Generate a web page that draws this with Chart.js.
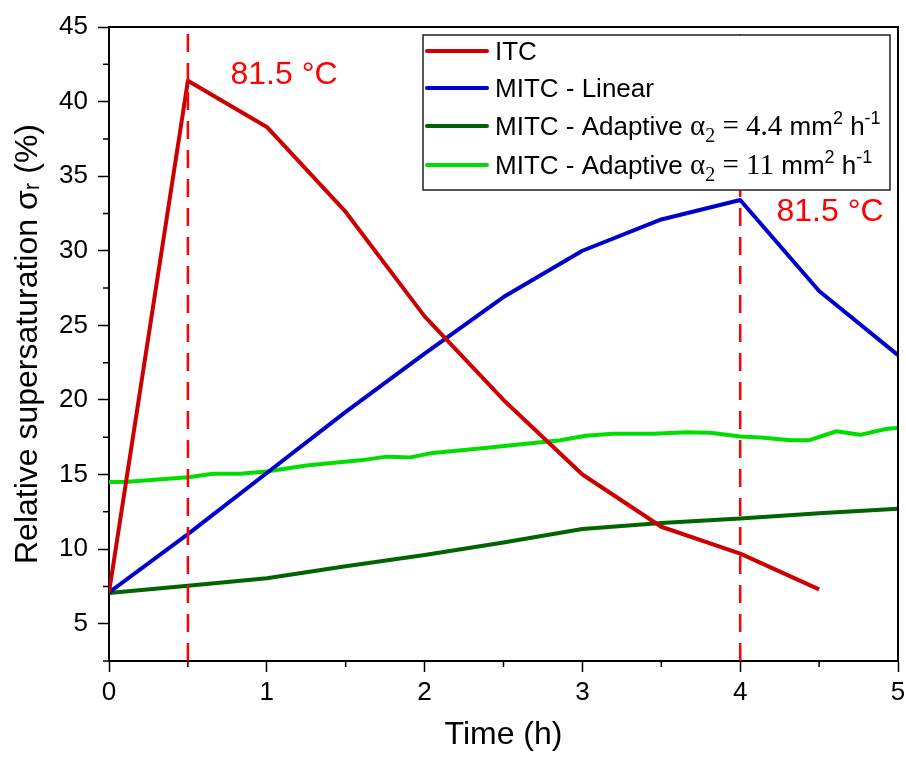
<!DOCTYPE html>
<html>
<head>
<meta charset="utf-8">
<script src="https://cdn.jsdelivr.net/npm/chart.js@4.4.0/dist/chart.umd.min.js"></script>
<style>
  html, body { margin: 0; padding: 0; background: #fff; }
  canvas { display: block; }
</style>
</head>
<body>
<canvas id="graficoSupersat" width="906" height="758"></canvas>
<script>
// dados
const tempos = [0, 0.5, 1, 1.5, 2, 2.5, 3, 3.5, 4, 4.5, 5];
const itcValores = [7.1, 41.4, 38.3, 32.6, 25.6, 20.0, 15.0, 11.5, 9.7, 7.3];
const linearValores = [7.1, 11.0, 15.1, 19.2, 23.1, 26.9, 30.0, 32.1, 33.4, 27.3, 23.0];
const adaptive44Valores = [7.05, 7.55, 8.05, 8.85, 9.6, 10.45, 11.35, 11.75, 12.05, 12.4, 12.7];
const adaptive11Tempos = [0, 0.12, 0.5, 0.66, 0.83, 1.0, 1.25, 1.59, 1.76, 1.91, 2.05, 2.35, 2.86, 3.02, 3.19, 3.45, 3.66, 3.81, 4.0, 4.13, 4.32, 4.44, 4.61, 4.76, 4.93, 5.0];
const adaptive11Valores = [14.5, 14.52, 14.82, 15.05, 15.05, 15.2, 15.6, 15.95, 16.2, 16.15, 16.45, 16.75, 17.3, 17.6, 17.73, 17.73, 17.84, 17.8, 17.55, 17.48, 17.3, 17.3, 17.9, 17.66, 18.07, 18.12];
const temposLimite = [0.5, 4];
const xTicks = [0, 1, 2, 3, 4, 5];
const yTicks = [5, 10, 15, 20, 25, 30, 35, 40, 45];
const anotacoes = [
  { texto: '81.5 °C', x: 0.77, y: 41.8 },
  { texto: '81.5 °C', x: 4.23, y: 32.6 }
];

const SANS = '"Liberation Sans", Arial, sans-serif';
const SERIF = '"Liberation Serif", "Times New Roman", serif';

// legenda com texto rico (sub/sobrescrito)
const legendaItens = [
  { cor: '#cc0000', partes: [['ITC', 'n']] },
  { cor: '#0000cc', partes: [['MITC - Linear', 'n']] },
  { cor: '#006400', partes: [['MITC - Adaptive ', 'n'], ['α', 's'], ['2', 'ssub'], [' = 4.4 ', 's'], ['mm', 'n'], ['2', 'sup'], [' h', 'n'], ['-1', 'sup']] },
  { cor: '#00dd00', partes: [['MITC - Adaptive ', 'n'], ['α', 's'], ['2', 'ssub'], [' = 11 ', 's'], ['mm', 'n'], ['2', 'sup'], [' h', 'n'], ['-1', 'sup']] }
];

const pontos = (xs, ys) => ys.map((v, i) => ({ x: xs[i], y: v }));

const pluginExtras = {
  id: 'extras',
  afterDraw(chart) {
    const { ctx, chartArea: a, scales } = chart;
    ctx.save();
    // moldura (topo e direita)
    ctx.strokeStyle = '#000';
    ctx.lineWidth = 2;
    ctx.beginPath();
    ctx.moveTo(a.left, a.top);
    ctx.lineTo(a.right, a.top);
    ctx.lineTo(a.right, a.bottom);
    ctx.stroke();

    // ticks menores
    ctx.lineWidth = 1.5;
    ctx.beginPath();
    for (let v = 0.5; v < 5; v += 1) {
      const px = scales.x.getPixelForValue(v);
      ctx.moveTo(px, a.bottom);
      ctx.lineTo(px, a.bottom + 6);
    }
    for (let v = 2.5; v < 45; v += 5) {
      const py = scales.y.getPixelForValue(v);
      ctx.moveTo(a.left, py);
      ctx.lineTo(a.left - 6, py);
    }
    ctx.stroke();

    // anotações
    ctx.fillStyle = '#ff0000';
    ctx.font = '32px ' + SANS;
    ctx.textBaseline = 'middle';
    ctx.textAlign = 'left';
    anotacoes.forEach(an => {
      ctx.fillText(an.texto, scales.x.getPixelForValue(an.x), scales.y.getPixelForValue(an.y));
    });

    // legenda
    const bx = a.right - 475, by = a.top + 8, bw = 467, bh = 155;
    ctx.fillStyle = '#fff';
    ctx.fillRect(bx, by, bw, bh);
    ctx.strokeStyle = '#222';
    ctx.lineWidth = 1.5;
    ctx.strokeRect(bx, by, bw, bh);
    const linhasY = [by + 16, by + 53, by + 91, by + 130];
    legendaItens.forEach((item, i) => {
      const y = linhasY[i];
      ctx.strokeStyle = item.cor;
      ctx.lineWidth = 4;
      ctx.lineCap = 'round';
      ctx.beginPath();
      ctx.moveTo(bx + 4, y);
      ctx.lineTo(bx + 64, y);
      ctx.stroke();
      let x = bx + 72;
      ctx.fillStyle = '#000';
      ctx.textBaseline = 'alphabetic';
      const base = y + 9;
      item.partes.forEach(([txt, estilo]) => {
        let dy = 0;
        if (estilo === 'n') ctx.font = '26px ' + SANS;
        else if (estilo === 's') ctx.font = '29px ' + SERIF;
        else if (estilo === 'ssub') { ctx.font = '20px ' + SERIF; dy = 7; }
        else if (estilo === 'sup') { ctx.font = '18px ' + SANS; dy = -11; }
        ctx.fillText(txt, x, base + dy);
        x += ctx.measureText(txt).width;
      });
    });
    ctx.restore();
  }
};

const ctxGrafico = document.getElementById('graficoSupersat').getContext('2d');

const linhaLimite = (t) => ({
  label: 'limite',
  data: [{ x: t, y: 2.5 }, { x: t, y: 45 }],
  borderColor: '#ff0000',
  borderWidth: 2.5,
  borderDash: [18, 11],
  pointRadius: 0
});

new Chart(ctxGrafico, {
  type: 'line',
  data: {
    datasets: [
      ...temposLimite.map(linhaLimite),
      { label: 'ITC', data: pontos(tempos, itcValores), borderColor: '#cc0000', borderWidth: 4 },
      { label: 'MITC - Linear', data: pontos(tempos, linearValores), borderColor: '#0000cc', borderWidth: 4 },
      { label: 'MITC - Adaptive 4.4', data: pontos(tempos, adaptive44Valores), borderColor: '#006400', borderWidth: 4 },
      { label: 'MITC - Adaptive 11', data: pontos(adaptive11Tempos, adaptive11Valores), borderColor: '#00dd00', borderWidth: 4 }
    ]
  },
  options: {
    responsive: false,
    animation: false,
    devicePixelRatio: 1,
    elements: { point: { radius: 0 }, line: { tension: 0, borderJoinStyle: 'round' } },
    layout: { padding: { top: 27, right: 8, left: 9, bottom: 0 } },
    plugins: { legend: { display: false }, tooltip: { enabled: false } },
    scales: {
      x: {
        type: 'linear',
        min: 0,
        max: 5,
        afterBuildTicks: s => { s.ticks = xTicks.map(v => ({ value: v })); },
        afterFit: s => { s.height = 97; s.paddingLeft = 0; s.paddingRight = 0; },
        ticks: { color: '#000', font: { family: SANS, size: 26 }, padding: 5, maxRotation: 0 },
        grid: { drawOnChartArea: false, tickLength: 11, color: '#000', tickWidth: 1.5 },
        border: { color: '#000', width: 2 },
        title: { display: true, text: 'Time (h)', color: '#000', font: { family: SANS, size: 32 }, padding: { top: 0, bottom: 4 } }
      },
      y: {
        min: 2.5,
        max: 45,
        afterBuildTicks: s => { s.ticks = yTicks.map(v => ({ value: v })); },
        afterFit: s => { s.width = 100; s.paddingTop = 0; s.paddingBottom = 0; },
        ticks: { color: '#000', font: { family: SANS, size: 26 }, padding: 10 },
        grid: { drawOnChartArea: false, tickLength: 11, color: '#000', tickWidth: 1.5 },
        border: { color: '#000', width: 2 },
        title: { display: true, text: 'Relative supersaturation σᵣ (%)', color: '#000', font: { family: SANS, size: 32 }, padding: { top: 0, bottom: 4 } }
      }
    }
  },
  plugins: [pluginExtras]
});
</script>
</body>
</html>
